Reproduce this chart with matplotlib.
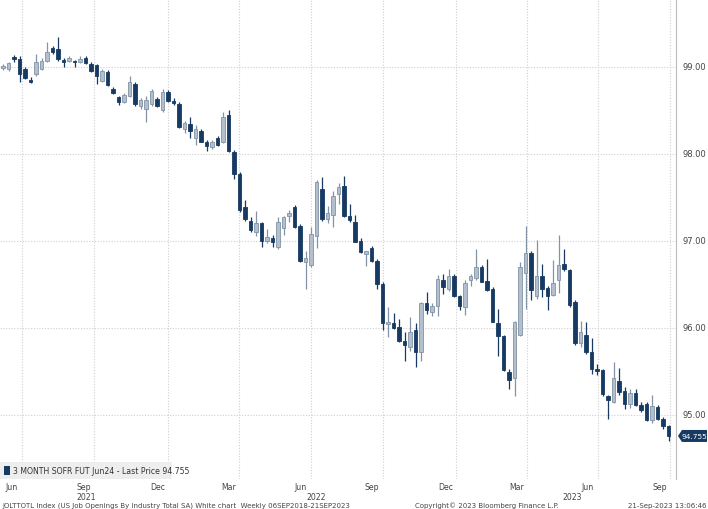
import matplotlib
matplotlib.use("Agg")
import matplotlib.pyplot as plt
from matplotlib.patches import Rectangle, Polygon

opens = [98.99,98.97,99.11,99.09,98.98,98.85,98.92,98.98,99.07,99.22,99.21,99.08,99.07,99.06,99.06,99.10,99.03,99.02,98.84,98.94,
 98.75,98.65,98.60,98.67,98.80,98.55,98.52,98.57,98.63,98.50,98.71,98.61,98.57,98.28,98.34,98.18,98.26,98.14,98.08,98.18,
 98.14,98.45,98.02,97.77,97.39,97.23,97.10,97.20,97.00,97.03,96.93,97.15,97.28,97.39,97.17,96.76,96.72,97.06,97.60,97.25,
 97.30,97.54,97.63,97.29,97.22,97.00,96.85,96.92,96.77,96.50,96.04,96.05,96.01,95.85,95.78,95.97,95.72,96.28,96.18,96.25,
 96.55,96.45,96.60,96.36,96.24,96.55,96.57,96.70,96.54,96.45,96.05,95.90,95.49,95.42,95.92,96.63,96.86,96.36,96.59,96.46,
 96.38,96.55,96.73,96.66,96.30,95.82,95.92,95.72,95.53,95.51,95.21,95.15,95.39,95.27,95.12,95.25,95.11,95.12,94.94,95.09,
 94.95,94.87]
highs = [99.03,99.06,99.14,99.12,99.00,98.88,99.15,99.10,99.29,99.24,99.34,99.10,99.13,99.08,99.12,99.12,99.05,99.03,98.97,98.96,
 98.77,98.67,98.70,98.89,98.82,98.64,98.66,98.74,98.65,98.74,98.73,98.64,98.59,98.38,98.42,98.33,98.28,98.16,98.16,98.21,
 98.48,98.50,98.04,97.79,97.47,97.27,97.34,97.22,97.14,97.07,97.27,97.29,97.35,97.41,97.19,96.88,97.16,97.70,97.73,97.40,
 97.57,97.66,97.75,97.42,97.30,97.03,96.88,96.94,96.79,96.52,96.24,96.17,96.10,95.95,96.12,96.05,96.30,96.41,96.28,96.61,
 96.62,96.68,96.62,96.38,96.55,96.62,96.91,96.72,96.79,96.47,96.21,95.92,95.52,96.08,96.76,97.17,96.88,97.01,96.73,96.48,
 96.78,97.07,96.91,96.68,96.32,96.08,96.07,95.88,95.58,95.53,95.23,95.60,95.54,95.32,95.30,95.30,95.14,95.14,95.23,95.11,
 94.97,94.88]
lows = [98.96,98.95,99.06,98.83,98.86,98.81,98.90,98.96,99.05,99.15,99.07,99.00,99.05,99.00,99.04,99.03,98.94,98.80,98.82,98.78,
 98.69,98.56,98.58,98.65,98.55,98.52,98.36,98.55,98.54,98.48,98.60,98.56,98.30,98.24,98.18,98.10,98.13,98.03,98.05,98.09,
 98.12,98.02,97.71,97.33,97.23,97.10,97.06,96.93,96.97,96.93,96.90,97.07,97.22,97.15,96.76,96.45,96.70,96.92,97.23,97.20,
 97.16,97.42,97.27,97.22,96.98,96.86,96.71,96.76,96.45,95.97,95.89,95.98,95.83,95.62,95.73,95.55,95.62,96.16,96.13,96.14,
 96.39,96.42,96.35,96.20,96.15,96.48,96.55,96.52,96.42,96.06,95.68,95.50,95.30,95.22,95.90,96.22,96.32,96.33,96.35,96.20,
 96.36,96.40,96.65,96.24,95.80,95.78,95.70,95.47,95.46,95.22,94.95,95.13,95.23,95.07,95.08,95.10,95.03,94.93,94.90,94.94,
 94.83,94.70]
closes = [99.01,99.04,99.09,98.92,98.87,98.83,99.06,99.07,99.17,99.17,99.09,99.06,99.10,99.05,99.09,99.04,98.95,98.90,98.95,98.79,
 98.70,98.60,98.68,98.83,98.57,98.62,98.62,98.72,98.55,98.71,98.61,98.58,98.31,98.35,98.26,98.29,98.14,98.09,98.14,98.10,
 98.42,98.03,97.77,97.35,97.25,97.12,97.20,97.00,97.04,96.98,97.21,97.27,97.32,97.16,96.77,96.80,97.08,97.68,97.25,97.32,
 97.52,97.62,97.28,97.24,96.99,96.87,96.88,96.77,96.50,96.05,96.07,96.00,95.85,95.80,95.95,95.72,96.28,96.20,96.25,96.56,
 96.47,96.60,96.36,96.25,96.51,96.60,96.70,96.53,96.43,96.07,95.90,95.51,95.40,96.07,96.70,96.86,96.43,96.59,96.45,96.36,
 96.51,96.72,96.67,96.26,95.82,95.95,95.72,95.53,95.50,95.24,95.17,95.42,95.26,95.12,95.25,95.11,95.05,94.94,95.10,94.95,
 94.87,94.755]

month_labels = ["Jun","Sep","Dec","Mar","Jun","Sep","Dec","Mar","Jun","Sep"]
month_grid = [3.45,16.5,30.0,42.9,56.0,69.0,82.4,95.3,108.2,121.3]
year_labels = ["2021","2022","2023"]
year_pos = [15.2,56.9,103.5]
yticks = [95.0,96.0,97.0,98.0,99.0]
last_price = 94.755

W, H = 708, 510
Y0, Y1 = 94.26, 99.78
fig = plt.figure(figsize=(W/100, H/100), dpi=100)
ax = fig.add_axes([0, 30/H, 676/W, 1-30/H])
ax.set_xlim(-0.55, 122.36)
ax.set_ylim(Y0, Y1)

DOWN = "#173a63"
UP_F = "#b3bfcc"
UP_E = "#8393a6"
for i, (o, h, l, c) in enumerate(zip(opens, highs, lows, closes)):
    up = c >= o
    col = UP_E if up else DOWN
    ax.vlines(i, l, h, color=col, lw=0.9, zorder=2)
    bot, top = min(o, c), max(o, c)
    ax.add_patch(Rectangle((i-0.3, bot), 0.6, max(top-bot, 0.012),
                           facecolor=UP_F if up else DOWN, edgecolor=col, lw=0.6, zorder=3))

for g in month_grid:
    ax.axvline(g, color="#cfcfcf", lw=0.8, ls=(0, (1, 1.5)), zorder=0)
for y in yticks:
    ax.axhline(y, color="#cfcfcf", lw=0.8, ls=(0, (1, 1.5)), zorder=0)

ax.set_xticks([]); ax.set_yticks([])
for s in ["top", "left", "bottom"]:
    ax.spines[s].set_visible(False)
ax.spines["right"].set_color("#bbbbbb")
ax.spines["right"].set_linewidth(0.8)

for y in yticks:
    ax.text(1.01, (y-Y0)/(Y1-Y0), f"{y:.2f}", transform=ax.transAxes,
            fontsize=6, color="#444444", va="center", ha="left")

# last price tag (drawn in figure pixel coords)
py = 30 + (last_price-Y0)/(Y1-Y0)*(H-30)
tag = Polygon([(678/W, py/H), (682/W, (py+6)/H), (707/W, (py+6)/H),
               (707/W, (py-6)/H), (682/W, (py-6)/H)], closed=True,
              transform=fig.transFigure, facecolor="#173a63", edgecolor="none")
fig.patches.append(tag)
fig.text(694.5/W, py/H, f"{last_price:.3f}", fontsize=5.4, color="white", va="center", ha="center")

# legend
ax.add_patch(Rectangle((0, 0), 172/676, 17/480, transform=ax.transAxes, facecolor="#eeeeee",
                       edgecolor="none", zorder=4))
ax.add_patch(Rectangle((4/676, 4/480), 6/676, 9/480, transform=ax.transAxes, facecolor="#173a63",
                       edgecolor="none", zorder=5))
ax.text(13/676, 8.5/480, "3 MONTH SOFR FUT Jun24 - Last Price 94.755", transform=ax.transAxes,
        fontsize=5.6, color="#333333", va="center", ha="left", zorder=6)

for lab, g in zip(month_labels, month_grid):
    ax.text(g-1.9, Y0-0.03, lab, fontsize=5.6, color="#444444", ha="center", va="top", clip_on=False)
for lab, p in zip(year_labels, year_pos):
    ax.text(p, Y0-0.145, lab, fontsize=5.6, color="#444444", ha="center", va="top", clip_on=False)

fig.text(2/W, 1-506/H, "JOLTTOTL Index (US Job Openings By Industry Total SA) White chart  Weekly 06SEP2018-21SEP2023",
         fontsize=5.0, color="#444444", va="center", ha="left")
fig.text(415/W, 1-506/H, "Copyright\u00a9 2023 Bloomberg Finance L.P.", fontsize=5.0, color="#444444",
         va="center", ha="left")
fig.text(706/W, 1-506/H, "21-Sep-2023 13:06:46", fontsize=5.0, color="#444444", va="center", ha="right")

fig.savefig("out.png", dpi=100)
